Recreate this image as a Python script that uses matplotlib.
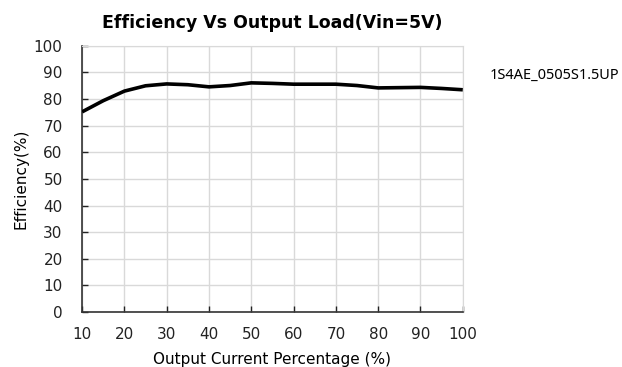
import numpy as np
from matplotlib import pyplot as plt

load_pct = [10, 15, 20, 25, 30, 35, 40, 45, 50, 55, 60, 65, 70, 75, 80, 85, 90, 95, 100]
efficiency = [75.2, 79.4, 83.0, 85.0, 85.7, 85.4, 84.6, 85.1, 86.1, 85.9, 85.6, 85.6, 85.6, 85.1, 84.2, 84.3, 84.4, 84.0, 83.5]
x_ticks = [10, 20, 30, 40, 50, 60, 70, 80, 90, 100]
y_ticks = [0, 10, 20, 30, 40, 50, 60, 70, 80, 90, 100]
model_name = "1S4AE_0505S1.5UP"

if __name__ == "__main__":
    fig = plt.figure(figsize=(6.22, 3.67), dpi=100)
    ax = fig.add_axes([0.132, 0.150, 0.612, 0.725])

    ax.plot(load_pct, efficiency, color='k', lw=2.6, solid_joinstyle='round', solid_capstyle='butt', zorder=3)

    ax.set_xlim(10, 100)
    ax.set_ylim(0, 100)
    ax.set_xticks(x_ticks)
    ax.set_yticks(y_ticks)
    ax.grid(True, color='#d9d9d9', lw=1)
    ax.tick_params(direction='in', length=4, width=1, labelsize=11, colors='#222222')
    ax.tick_params(axis='x', pad=11)
    ax.tick_params(axis='y', pad=14)

    for side in ['top', 'right']:
        ax.spines[side].set_color('#d9d9d9')
    for side in ['left', 'bottom']:
        ax.spines[side].set_color('#333333')
        ax.spines[side].set_linewidth(1.2)

    ax.set_title('Efficiency Vs Output Load(Vin=5V)', fontsize=12.5, fontweight='bold', pad=13)
    ax.set_xlabel('Output Current Percentage (%)', fontsize=11, labelpad=7)
    ax.set_ylabel('Efficiency(%)', fontsize=11, labelpad=4)

    fig.text(490 / 622, 1 - 75 / 367, model_name, fontsize=10.5, family='Noto Sans', va='center', ha='left')

    fig.savefig('out.png', dpi=100)
